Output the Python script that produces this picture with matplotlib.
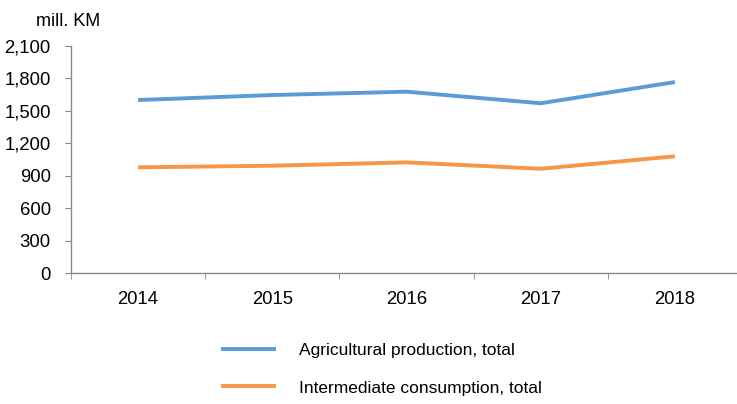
import matplotlib
matplotlib.use("Agg")
import matplotlib.pyplot as plt
from matplotlib.ticker import FuncFormatter

plt.rcParams['font.family'] = ['Liberation Sans', 'DejaVu Sans']

years = ["2014", "2015", "2016", "2017", "2018"]
agri_production = [1601, 1647, 1678, 1571, 1767]
intermediate_consumption = [979, 994, 1025, 966, 1081]
y_ticks = [0, 300, 600, 900, 1200, 1500, 1800, 2100]
series_names = ["Agricultural production, total", "Intermediate consumption, total"]

fig = plt.figure(figsize=(7.37, 4.04), dpi=100)
ax = fig.add_axes([0.0963, 0.3235, 0.9105, 0.5626])

x = list(range(len(years)))
l1, = ax.plot(x, agri_production, color="#5B9BD5", lw=2.8, solid_capstyle="butt")
l2, = ax.plot(x, intermediate_consumption, color="#F79646", lw=2.8, solid_capstyle="butt")

ax.set_xlim(-0.5, len(years) - 0.5)
ax.set_ylim(0, 2100)
ax.set_yticks(y_ticks)
ax.yaxis.set_major_formatter(FuncFormatter(lambda v, p: f"{int(v):,}"))
ax.set_xticks(x)
ax.set_xticklabels(years)
ax.set_xticks([i - 0.5 for i in range(len(years) + 1)], minor=True)
ax.tick_params(axis="x", which="major", length=0, pad=13, labelsize=13.3)
ax.tick_params(axis="x", which="minor", length=4, color="#898989", direction="out")
ax.tick_params(axis="y", length=4.5, color="#898989", labelsize=13.3, pad=10)

for s in ["top", "right"]:
    ax.spines[s].set_visible(False)
for s in ["left", "bottom"]:
    ax.spines[s].set_color("#898989")
    ax.spines[s].set_linewidth(1.0)

fig.text(36 / 737, 1 - 22 / 404, "mill. KM", fontsize=13, va="center", ha="left")

leg = fig.legend([l1, l2], series_names, loc="upper left",
                 bbox_to_anchor=(205 / 737, 1 - 327 / 404), frameon=False,
                 fontsize=12.5, handlelength=3.2, handletextpad=1.3,
                 labelspacing=1.3)

fig.savefig("out.png", dpi=100)
